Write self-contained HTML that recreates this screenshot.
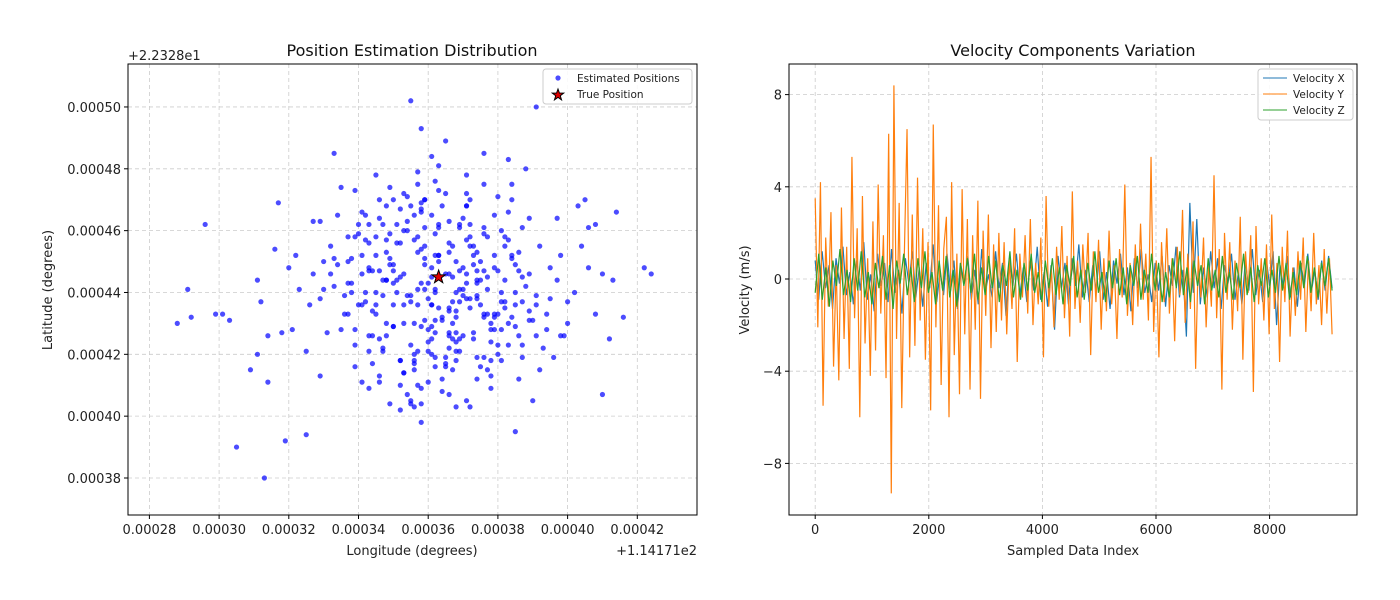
<!DOCTYPE html>
<html><head><meta charset="utf-8"><style>
body{margin:0;background:#fff;}
svg{display:block;font-family:"DejaVu Sans","Liberation Sans",sans-serif;}
</style></head><body>
<svg id="fig" width="1400" height="600">
<rect width="1400" height="600" fill="#fff"/>
<g id="left"></g>
<g id="right"></g>
</svg>
<script>
// ---------- data: scatter (offsets in 1e-6 degrees) ----------
const lonBase = 114.171, latBase = 22.328;
const lonOff = [345,362,371,338,356,380,329,367,352,391,374,349,360,385,333,358,377,341,366,395,355,369,343,382,361,337,376,350,388,364,327,372,357,347,383,368,340,353,379,362,392,335,365,351,374,345,387,359,330,371,356,381,342,367,376,348,363,397,339,384,360,373,336,358,389,346,366,378,353,322,369,343,382,357,371,334,350,386,362,376,348,391,364,329,375,354,368,341,380,359,385,366,344,352,373,400,361,337,379,356,370,349,392,363,331,358,377,346,368,383,353,387,340,366,374,357,398,334,362,381,344,371,359,378,326,365,351,389,369,348,362,338,382,355,375,347,394,367,333,376,357,369,343,386,360,380,350,372,339,364,389,352,366,345,378,332,361,384,356,370,323,373,348,363,395,341,368,355,379,358,374,336,353,387,365,346,371,393,361,350,381,359,342,368,377,356,330,385,363,347,366,390,354,372,339,382,358,344,375,397,312,316,320,325,318,402,406,408,404,399,314,321,327,410,400,403,396,413,311,398,335,372,390,345,378,361,352,384,368,341,376,355,365,349,383,358,371,343,388,362,329,369,394,337,380,350,374,357,386,360,348,377,363,391,342,370,354,384,366,332,357,373,346,361,379,339,367,353,387,371,288,291,292,296,299,301,303,305,313,319,325,355,391,422,424,416,412,410,385,358,363,317,309,311,314,333,408,406,405,414,
351,368,359,374,343,362,380,355,366,348,372,357,339,384,361,352,376,345,369,358,364,349,381,356,371,342,367,378,353,360,337,375,363,350,386,358,344,370,361,379,354,366,347,373,359,341,382,365,352,376,362,348,389,357,369,346,374,360,338,383,356,371,364,343,378,351,367,359,385,353,345,372,361,377,349,366,355,381,340,368,358,374,352,363,387,347,370,356,379,362,365,350,376,343,368,359,383,354,372,346];
const latOff = [452,431,468,440,418,447,463,425,456,439,412,474,443,429,451,404,458,436,422,448,437,461,426,455,445,433,419,470,442,408,446,438,479,421,466,450,459,414,433,427,455,428,417,462,444,436,423,449,441,472,403,437,457,430,461,444,435,444,416,470,424,449,439,467,431,411,456,418,446,452,441,421,458,436,405,465,429,447,476,432,453,426,412,438,450,460,432,446,423,470,440,463,434,418,455,437,425,443,465,430,448,459,415,452,427,409,433,470,421,457,436,445,462,407,439,475,426,449,440,418,426,468,441,430,436,419,456,464,447,444,459,451,435,423,444,462,433,415,442,475,410,437,448,453,438,420,429,458,473,431,446,467,426,440,413,455,448,432,420,464,441,427,457,450,438,466,434,404,452,443,419,433,430,461,472,413,446,422,436,449,428,455,465,424,441,417,450,436,462,439,453,431,407,435,458,444,469,447,416,464,437,454,448,421,427,440,461,433,455,426,411,428,463,446,430,468,419,444,444,452,474,403,405,478,409,484,402,475,403,411,485,405,489,404,483,398,478,409,480,416,413,462,428,458,471,436,443,458,412,428,468,415,452,436,440,426,471,451,434,446,421,452,447,465,432,428,437,460,419,443,430,441,432,462,433,433,431,390,380,392,394,502,500,448,446,432,425,407,395,493,481,469,415,420,426,485,462,448,470,466,
444,427,451,438,462,419,433,468,446,430,455,441,423,452,436,410,447,458,425,466,432,449,440,415,457,437,445,428,472,421,450,436,461,443,426,454,417,439,429,448,463,435,444,425,470,452,437,446,418,459,441,426,434,453,421,464,447,411,443,430,457,438,468,447,424,440,455,431,449,414,433,462,420,445,451,427,439,460,436,418,429,453,445,473,437,422,441,465,428,452,416,447,433,456,440,461,423,439,470,425];
const trueLon = 363, trueLat = 445;
const lonTicks = [280,300,320,340,360,380,400,420];
const latTicks = [380,400,420,440,460,480,500];
// ---------- data: velocities ----------
const vIdxMax = 9100;
const velX = [0.8,-0.9,1.2,-0.4,0.6,-1.3,0.9,-0.2,1.4,-0.7,0.3,-1.1,0.8,-0.5,1.6,-0.9,0.2,-1.4,1.1,-0.3,0.7,-1.0,1.3,-0.6,0.4,-1.5,0.9,-0.2,1.2,-0.8,0.5,-1.2,0.7,-0.4,1.5,-1.0,0.3,-0.7,1.1,-0.5,0.8,-1.3,0.6,-0.2,1.0,-0.9,0.4,-1.1,1.3,-0.6,0.2,-0.8,1.2,-0.4,0.7,-1.6,0.9,-0.3,1.1,-0.7,0.5,-1.0,0.8,-0.5,1.4,-0.9,0.3,-1.2,0.6,-2.2,1.0,-0.4,0.7,-1.1,0.9,-0.3,1.5,-0.8,0.4,-1.0,0.6,-0.5,1.2,-0.9,0.3,-1.3,0.8,-0.2,1.1,-0.7,0.5,-1.4,0.9,-0.4,1.3,-0.6,0.2,-1.0,0.7,-0.5,1.0,-1.2,0.6,-0.3,1.4,-0.8,0.4,-2.5,3.3,-0.6,2.6,-1.1,0.5,-0.8,1.2,-0.4,0.9,-1.3,0.6,-0.2,1.1,-0.9,0.3,-1.1,0.8,-0.5,1.3,-0.7,0.4,-1.0,0.9,-0.3,1.2,-2.0,0.6,-0.4,1.0,-0.8,0.5,-1.2,0.7,-0.3,1.1,-0.6,0.4,-0.9,0.8,-0.5,1.0,-0.4];
const velY = [3.5,-2.1,4.2,-5.5,1.8,-1.2,2.9,-3.8,0.6,-4.4,3.1,-2.6,1.4,-3.9,5.3,-1.7,2.2,-6.0,3.6,-2.8,0.9,-4.2,2.5,-3.1,4.1,-1.5,1.9,-4.3,6.3,-9.3,8.4,-2.6,3.3,-5.6,1.2,6.5,-3.4,2.8,-2.9,4.4,-1.8,2.2,-3.5,1.6,-5.7,6.7,-2.1,3.2,-4.6,1.3,2.7,-6.0,4.2,-3.3,1.1,-5.0,3.9,-2.4,2.6,-4.8,1.9,-2.2,3.4,-5.2,2.1,-1.6,2.8,-3.0,1.5,-2.3,2.0,-1.8,1.6,-2.4,0.9,-1.3,2.2,-3.6,1.1,-0.8,1.9,-1.5,2.6,-2.0,0.7,-1.1,1.8,-3.4,3.6,-1.2,0.5,-2.1,1.4,-0.9,2.3,-1.7,1.0,-2.5,3.8,-1.3,0.8,-1.9,1.5,-0.6,2.0,-3.3,1.2,-1.0,1.7,-2.2,0.9,-1.4,2.1,-1.1,0.6,-2.6,1.3,-0.8,4.1,-1.6,0.7,-2.0,1.5,-1.2,2.4,-0.9,1.1,-1.8,5.3,-2.3,0.8,-3.4,1.6,-1.0,2.2,-1.5,0.9,-2.7,1.4,-0.7,3.0,-1.9,1.1,-1.3,2.5,-3.9,1.0,-0.8,1.8,-2.1,0.6,-1.2,4.5,-1.7,1.3,-4.8,2.0,-0.9,1.6,-2.2,0.8,-1.4,2.7,-3.5,1.2,-0.6,1.9,-4.9,2.3,-1.1,0.9,-1.8,1.5,-2.4,2.8,-1.3,0.7,-3.6,1.4,-1.0,2.1,-2.5,0.5,-1.6,1.2,-0.9,1.8,-2.3,0.8,-1.4,2.0,-1.1,0.6,-2.0,1.3,-1.5,0.9,-2.4];
const velZ = [-0.6,1.1,-0.9,0.5,-1.2,0.8,-0.3,1.3,-0.7,0.4,-1.0,0.9,-0.5,1.2,-0.8,0.3,-1.1,0.7,-0.4,1.0,-0.9,0.6,-1.3,0.8,-0.2,1.1,-0.7,0.5,-1.0,0.9,-0.4,1.2,-0.6,0.3,-1.1,0.8,-0.5,1.0,-0.8,0.4,-1.2,0.7,-0.3,0.9,-0.6,1.1,-0.9,0.5,-0.7,1.0,-0.4,0.8,-1.0,0.6,-0.3,1.2,-0.8,0.4,-0.9,0.7,-0.5,1.1,-0.6,0.3,-1.0,0.8,-0.4,0.9,-0.7,0.5,-1.1,0.6,-0.3,1.0,-0.8,0.4,-0.9,0.7,-0.5,1.2,-0.6,0.3,-1.0,0.8,-0.4,0.9,-0.7,0.5,-1.1,0.6,-0.3,1.0,-0.9,0.4,-0.6,1.1,-0.5,0.7,-1.0,0.3,-0.8,0.9,-0.4,1.2,-0.7,0.5,-1.0,0.8,-0.3,0.6,-1.1,0.9,-0.5,0.4,-0.8,1.0,-0.6,0.3,-0.9,0.7,-0.4,1.1,-0.7,0.5,-1.0,0.6,-0.3,0.9,-0.8,0.4,-0.6,1.0,-0.5,0.7,-0.9,0.3,-0.7,0.8,-0.4,1.0,-0.6,0.5,-0.8,0.7,-0.3,0.9,-0.5];
const vTicksX = [0,2000,4000,6000,8000];
const vTicksY = [-8,-4,0,4,8];

const NS="http://www.w3.org/2000/svg";
function mk(parent,tag,attrs,text){const e=document.createElementNS(NS,tag);for(const k in attrs)e.setAttribute(k,attrs[k]);if(text!==undefined)e.textContent=text;parent.appendChild(e);return e;}

// ---------- left chart ----------
const L=document.getElementById('left');
const lx=v=>149.4+(v-280)*3.485, ly=v=>478-(v-380)*3.092;
const lb={x:128,y:64,w:569,h:451};
for(const t of lonTicks){const g=mk(L,'line',{x1:lx(t),x2:lx(t),y1:lb.y,y2:lb.y+lb.h,stroke:'#ccc','stroke-dasharray':'4,3','stroke-width':0.8});
}
for(const t of latTicks){const g=mk(L,'line',{x1:lb.x,x2:lb.x+lb.w,y1:ly(t),y2:ly(t),stroke:'#ccc','stroke-dasharray':'4,3','stroke-width':0.8});
}
for(let i=0;i<lonOff.length;i++){const c=mk(L,'circle',{cx:lx(lonOff[i]),cy:ly(latOff[i]),r:2.6,fill:'#0000ff','fill-opacity':0.7});
}
function star(par,cx,cy,R){let p='';for(let i=0;i<10;i++){const r=i%2?R*0.4:R;const a=-Math.PI/2+i*Math.PI/5;p+=(i?'L':'M')+(cx+r*Math.cos(a)).toFixed(2)+','+(cy+r*Math.sin(a)).toFixed(2);}return mk(par,'path',{d:p+'Z',fill:'#e00000',stroke:'#000','stroke-width':1});}
const st=star(L,lx(trueLon),ly(trueLat),7);

const lf=mk(L,'rect',{x:lb.x,y:lb.y,width:lb.w,height:lb.h,fill:'none',stroke:'#000','stroke-width':1});

for(const t of lonTicks){mk(L,'line',{x1:lx(t),x2:lx(t),y1:515,y2:519,stroke:'#000'});
const tx=mk(L,'text',{x:lx(t),y:534,'font-size':13,'text-anchor':'middle',fill:'#222'},(t/1e6).toFixed(5));
}
for(const t of latTicks){mk(L,'line',{x1:124,x2:128,y1:ly(t),y2:ly(t),stroke:'#000'});
const tx=mk(L,'text',{x:121,y:ly(t)+5,'font-size':13,'text-anchor':'end',fill:'#222'},(t/1e6).toFixed(5));
}
let e;
e=mk(L,'text',{x:697,y:555,'font-size':13,'text-anchor':'end',fill:'#222'},'+1.14171e2');
e=mk(L,'text',{x:128,y:60,'font-size':13,fill:'#222'},'+2.2328e1');
e=mk(L,'text',{x:412,y:555,'font-size':13,'text-anchor':'middle',fill:'#222'},'Longitude (degrees)');
e=mk(L,'text',{x:0,y:0,'font-size':13,'text-anchor':'middle',fill:'#222',transform:'translate(52,290) rotate(-90)'},'Latitude (degrees)');
e=mk(L,'text',{x:412,y:56,'font-size':16,'text-anchor':'middle',fill:'#111'},'Position Estimation Distribution');
const lg=mk(L,'g',{});
mk(lg,'rect',{x:543,y:69,width:149,height:35,rx:3,fill:'#fff','fill-opacity':0.85,stroke:'#ccc'});
mk(lg,'circle',{cx:558,cy:78,r:2.6,fill:'#0000ff','fill-opacity':0.7});
e=mk(lg,'text',{x:577,y:82,'font-size':10.5,fill:'#222'},'Estimated Positions');
star(lg,558,95,6);
e=mk(lg,'text',{x:577,y:98,'font-size':10.5,fill:'#222'},'True Position');

// ---------- right chart ----------
const R=document.getElementById('right');
const rx=v=>815.2+v*0.0568, ry=v=>279-v*23.05;
const rb={x:789,y:64,w:568,h:451};
for(const t of vTicksX){e=mk(R,'line',{x1:rx(t),x2:rx(t),y1:rb.y,y2:rb.y+rb.h,stroke:'#ccc','stroke-dasharray':'4,3','stroke-width':0.8});}
for(const t of vTicksY){e=mk(R,'line',{x1:rb.x,x2:rb.x+rb.w,y1:ry(t),y2:ry(t),stroke:'#ccc','stroke-dasharray':'4,3','stroke-width':0.8});}
function series(arr,color,name){let d='';for(let i=0;i<arr.length;i++){const idx=i*vIdxMax/(arr.length-1);d+=(i?'L':'M')+rx(idx).toFixed(2)+','+ry(arr[i]).toFixed(2);}
const p=mk(R,'path',{d:d,fill:'none',stroke:color,'stroke-width':1.2});}
series(velX,'#1f77b4','velocity-x-line');
series(velY,'#ff7f0e','velocity-y-line');
series(velZ,'#2ca02c','velocity-z-line');
e=mk(R,'rect',{x:rb.x,y:rb.y,width:rb.w,height:rb.h,fill:'none',stroke:'#000'});
for(const t of vTicksX){mk(R,'line',{x1:rx(t),x2:rx(t),y1:515,y2:519,stroke:'#000'});
e=mk(R,'text',{x:rx(t),y:534,'font-size':13,'text-anchor':'middle',fill:'#222'},String(t));}
for(const t of vTicksY){mk(R,'line',{x1:785,x2:789,y1:ry(t),y2:ry(t),stroke:'#000'});
e=mk(R,'text',{x:782,y:ry(t)+5,'font-size':13,'text-anchor':'end',fill:'#222'},t<0?'\u2212'+Math.abs(t):String(t));}
e=mk(R,'text',{x:1073,y:555,'font-size':13,'text-anchor':'middle',fill:'#222'},'Sampled Data Index');
e=mk(R,'text',{x:0,y:0,'font-size':13,'text-anchor':'middle',fill:'#222',transform:'translate(749,290) rotate(-90)'},'Velocity (m/s)');
e=mk(R,'text',{x:1073,y:56,'font-size':16,'text-anchor':'middle',fill:'#111'},'Velocity Components Variation');
const rg=mk(R,'g',{});
mk(rg,'rect',{x:1258,y:69,width:95,height:51,rx:3,fill:'#fff','fill-opacity':0.85,stroke:'#ccc'});
const names=['Velocity X','Velocity Y','Velocity Z'],cols=['#1f77b4','#ff7f0e','#2ca02c'];
for(let i=0;i<3;i++){mk(rg,'line',{x1:1263,x2:1287,y1:78+i*16,y2:78+i*16,stroke:cols[i],'stroke-width':1});
e=mk(rg,'text',{x:1293,y:82+i*16,'font-size':10.5,fill:'#222'},names[i]);}
</script>
</body></html>
